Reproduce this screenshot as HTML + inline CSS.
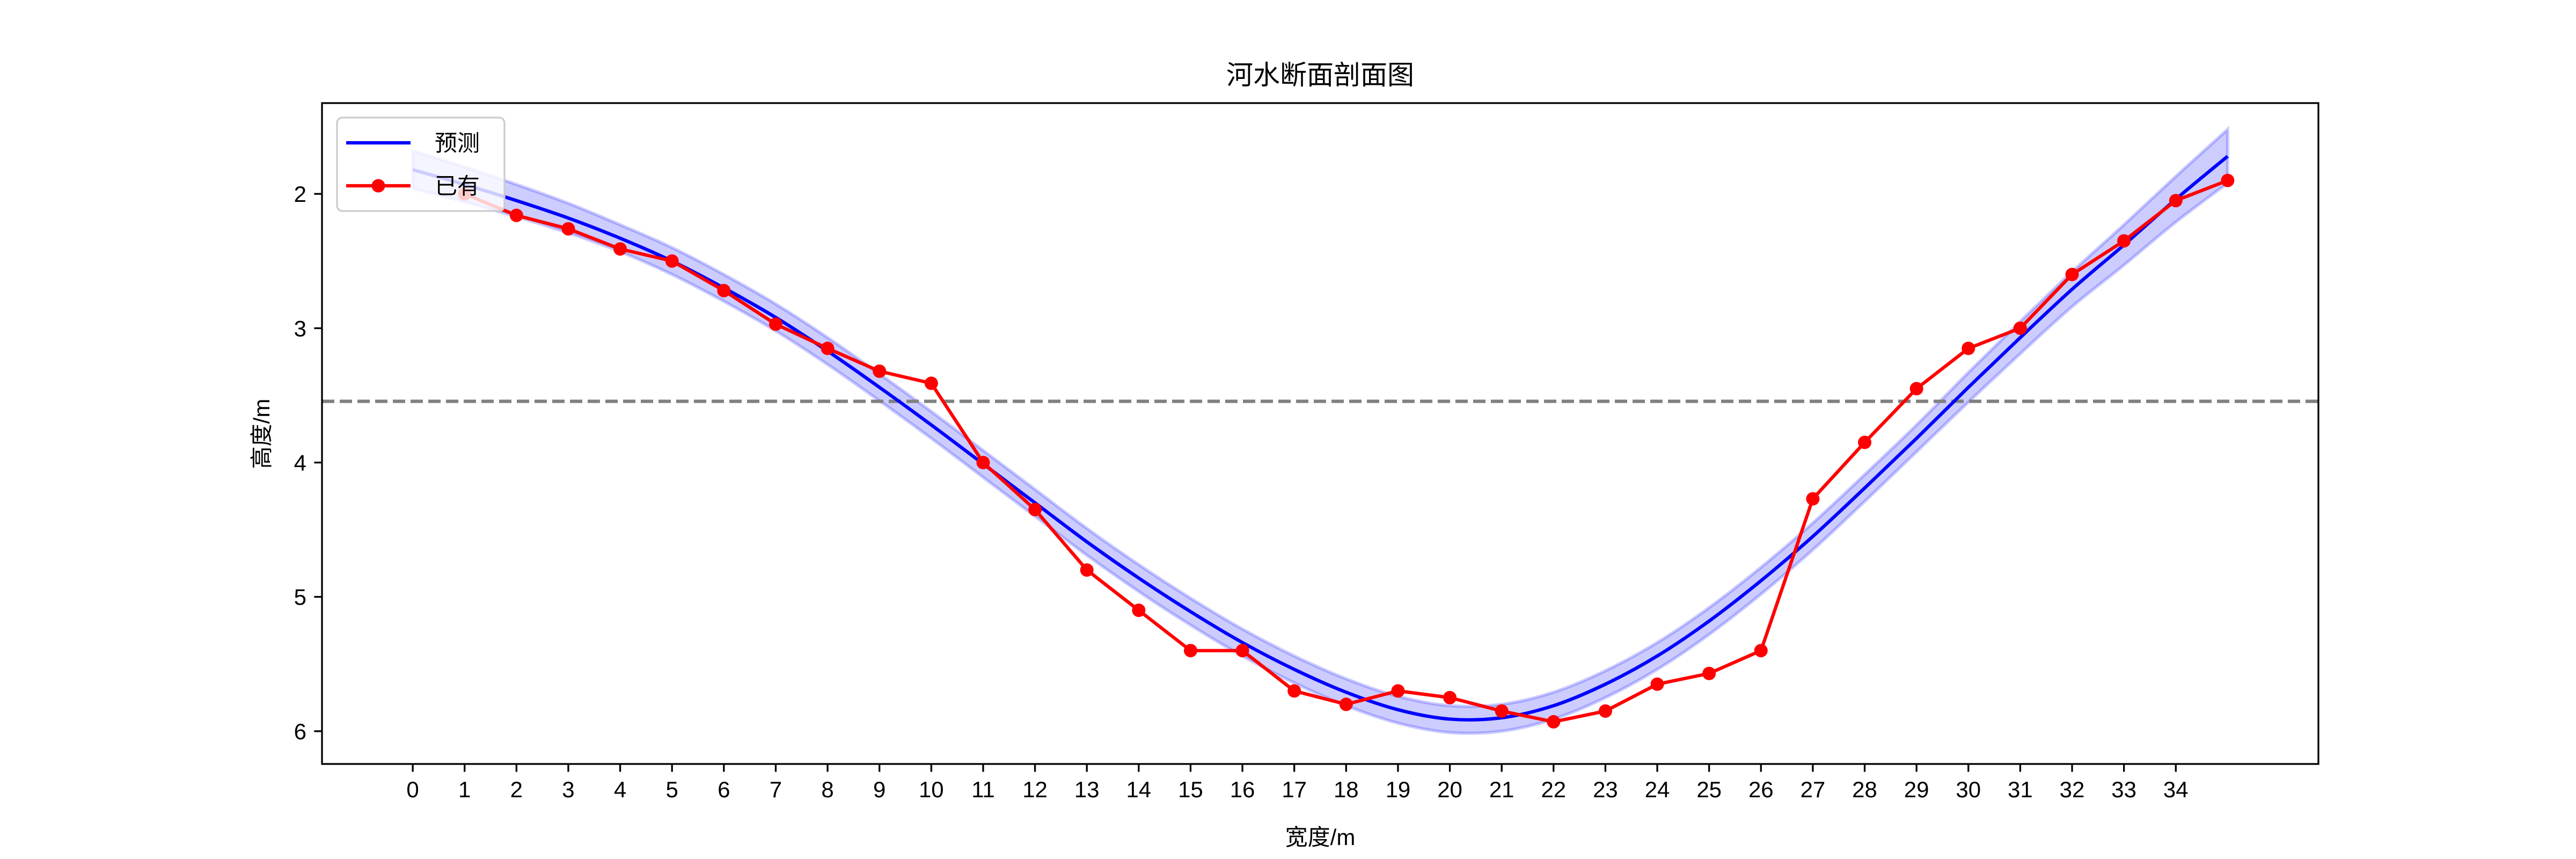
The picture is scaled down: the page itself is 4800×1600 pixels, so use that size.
<!DOCTYPE html>
<html><head><meta charset="utf-8">
<style>
html,body{margin:0;padding:0;background:#fff;}
svg{display:block;}
text{font-family:"Liberation Sans","Noto Sans CJK SC",sans-serif;}
</style></head>
<body>
<svg id="chart" width="4800" height="1600" viewBox="0 0 4800 1600" xmlns="http://www.w3.org/2000/svg">
<rect x="0" y="0" width="4800" height="1600" fill="#fff"/>
<text x="2460" y="157" font-size="50" text-anchor="middle">河水断面剖面图</text>
<text x="2460" y="1574" font-size="42" text-anchor="middle">宽度/m</text>
<text transform="translate(502,808) rotate(-90)" font-size="42" text-anchor="middle">高度/m</text>
<g id="plot"></g>
</svg>
<script>
// ---- data ----
const xTicks = [0,1,2,3,4,5,6,7,8,9,10,11,12,13,14,15,16,17,18,19,20,21,22,23,24,25,26,27,28,29,30,31,32,33,34];
const yTicks = [2,3,4,5,6];
const predX = [0,1,2,3,4,5,6,7,8,9,10,11,12,13,14,15,16,17,18,19,20,21,22,23,24,25,26,27,28,29,30,31,32,33,34,35];
const predY = [1.82,1.93,2.05,2.18,2.33,2.5,2.7,2.92,3.17,3.44,3.72,4.01,4.3,4.59,4.86,5.11,5.34,5.54,5.71,5.84,5.91,5.9,5.81,5.65,5.44,5.18,4.88,4.55,4.19,3.82,3.44,3.07,2.71,2.38,2.04,1.72];
const bandHalf = [0.14,0.13,0.12,0.11,0.1,0.1,0.1,0.1,0.1,0.1,0.1,0.1,0.1,0.1,0.1,0.1,0.1,0.1,0.1,0.1,0.1,0.1,0.1,0.1,0.1,0.1,0.1,0.1,0.1,0.1,0.11,0.12,0.13,0.15,0.17,0.2];
const obsX = [1,2,3,4,5,6,7,8,9,10,11,12,13,14,15,16,17,18,19,20,21,22,23,24,25,26,27,28,29,30,31,32,33,34,35];
const obsY = [2.0,2.16,2.26,2.41,2.5,2.72,2.97,3.15,3.32,3.41,4.0,4.35,4.8,5.1,5.4,5.4,5.7,5.8,5.7,5.75,5.85,5.93,5.85,5.65,5.57,5.4,4.27,3.85,3.45,3.15,3.0,2.6,2.35,2.05,1.9];
const refLevel = [3.544];
const xDomain = [-1.75, 36.75];
const yDomain = [1.324, 6.244];

// ---- layout ----
const L=600,R=4320,T=192,B=1423;
const sx = v => L + (v - xDomain[0]) / (xDomain[1]-xDomain[0]) * (R-L);
const sy = v => T + (v - yDomain[0]) / (yDomain[1]-yDomain[0]) * (B-T);
const NS='http://www.w3.org/2000/svg';
const plot=document.getElementById('plot');
function mk(tag, attrs, parent){const e=document.createElementNS(NS,tag);for(const k in attrs)e.setAttribute(k,attrs[k]);(parent||plot).appendChild(e);return e;}

function smooth(pts){
  let d='M'+pts[0][0]+','+pts[0][1];
  for(let i=0;i<pts.length-1;i++){
    const p0=pts[Math.max(0,i-1)],p1=pts[i],p2=pts[i+1],p3=pts[Math.min(pts.length-1,i+2)];
    const c1=[p1[0]+(p2[0]-p0[0])/6,p1[1]+(p2[1]-p0[1])/6];
    const c2=[p2[0]-(p3[0]-p1[0])/6,p2[1]-(p3[1]-p1[1])/6];
    d+=' C'+c1[0]+','+c1[1]+' '+c2[0]+','+c2[1]+' '+p2[0]+','+p2[1];
  }
  return d;
}

mk('defs',{}).innerHTML='<clipPath id="clip"><rect x="600" y="192" width="3720" height="1231"/></clipPath>';

const upper=predX.map((x,i)=>[sx(x),sy(predY[i]-bandHalf[i])]);
const lower=predX.map((x,i)=>[sx(x),sy(predY[i]+bandHalf[i])]).reverse();
const lowerPath=smooth(lower).replace(/^M/,' L');
const band=mk('path',{d:smooth(upper)+lowerPath+' Z',fill:'#0000ff','fill-opacity':'0.2',stroke:'#0000ff','stroke-opacity':'0.2','stroke-width':'6','clip-path':'url(#clip)'});



const ref=mk('line',{x1:L,x2:R,y1:sy(refLevel[0]),y2:sy(refLevel[0]),stroke:'#808080','stroke-width':'6.25','stroke-dasharray':'23 10'});



const pl=mk('path',{d:smooth(predX.map((x,i)=>[sx(x),sy(predY[i])])),fill:'none',stroke:'#0000ff','stroke-width':'6.25'});



const ol=mk('polyline',{points:obsX.map((x,i)=>sx(x)+','+sy(obsY[i])).join(' '),fill:'none',stroke:'#ff0000','stroke-width':'6.25','stroke-linejoin':'round'});


obsX.forEach((x,i)=>{
  const c=mk('circle',{cx:sx(x),cy:sy(obsY[i]),r:'12.5',fill:'#ff0000'});
  
  
});

const fr=mk('rect',{x:L,y:T,width:R-L,height:B-T,fill:'none',stroke:'#000','stroke-width':'3.3'});



xTicks.forEach(v=>{
  const t=mk('line',{x1:sx(v),x2:sx(v),y1:B,y2:B+14.6,stroke:'#000','stroke-width':'3.3'});
  
  
  const l=mk('text',{x:sx(v),y:B+62,'font-size':'42','text-anchor':'middle'});
  l.textContent=v;
  
  
});
yTicks.forEach(v=>{
  const t=mk('line',{x1:L-14.6,x2:L,y1:sy(v),y2:sy(v),stroke:'#000','stroke-width':'3.3'});
  
  
  const l=mk('text',{x:L-29,y:sy(v)+15,'font-size':'42','text-anchor':'end'});
  l.textContent=v;
  
  
});

const lg=mk('g',{});


mk('rect',{x:628,y:219,width:312,height:174,rx:10,fill:'#fff','fill-opacity':'0.8',stroke:'#cccccc','stroke-width':'3.3'},lg);
const e1=mk('line',{x1:645,x2:765,y1:266,y2:266,stroke:'#0000ff','stroke-width':'6.25'},lg);


const t1=mk('text',{x:810,y:281,'font-size':'42'},lg);t1.textContent='预测';


const e2=mk('line',{x1:645,x2:765,y1:346,y2:346,stroke:'#ff0000','stroke-width':'6.25'},lg);


mk('circle',{cx:705,cy:346,r:12.5,fill:'#ff0000'},lg);
const t2=mk('text',{x:810,y:361,'font-size':'42'},lg);t2.textContent='已有';


</script>
</body></html>
